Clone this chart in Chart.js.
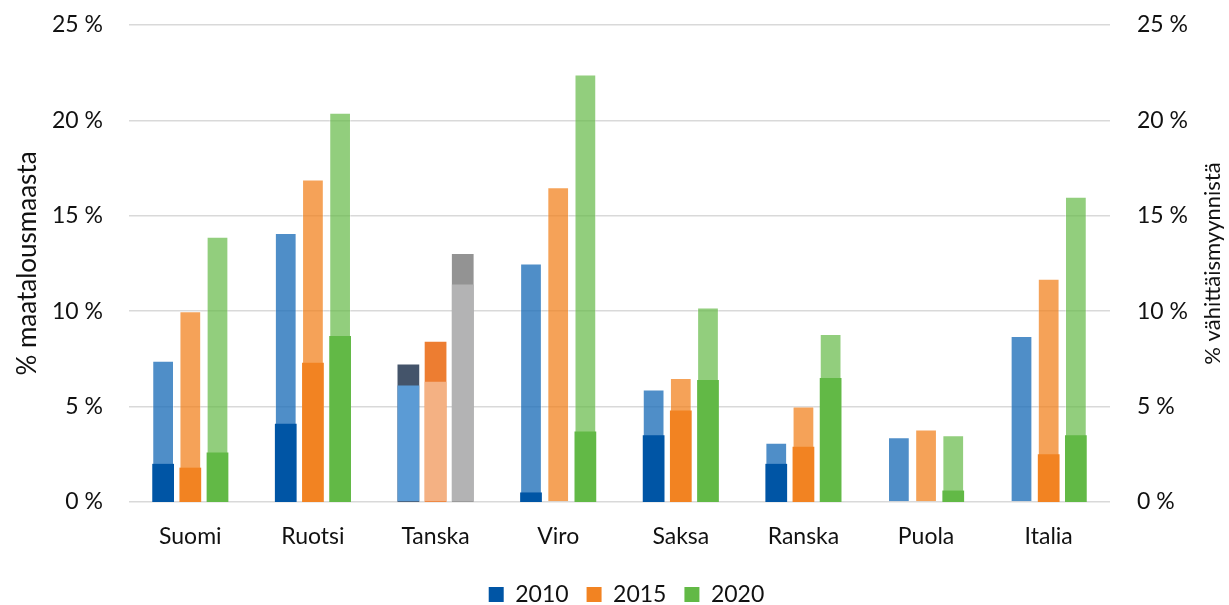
<!DOCTYPE html>
<html>
<head>
<meta charset="utf-8">
<script src="https://cdn.jsdelivr.net/npm/chart.js@4"></script>
<style>
  html, body { margin: 0; padding: 0; background: #fff; overflow: hidden; }
  #wrap { position: relative; width: 1229px; height: 616px; }
</style>
</head>
<body>
<div id="wrap"><canvas id="c"></canvas></div>
<script>
// ---- Data ----
const categories = ['Suomi', 'Ruotsi', 'Tanska', 'Viro', 'Saksa', 'Ranska', 'Puola', 'Italia'];
const years = ['2010', '2015', '2020'];

// % maatalousmaasta (left axis)
const land2010 = [7.4, 14.1, 6.1, 12.5, 5.9, 3.1, 3.4, 8.7];
const land2015 = [10.0, 16.9, 6.3, 16.5, 6.5, 5.0, 3.8, 11.7];
const land2020 = [13.9, 20.4, 11.4, 22.4, 10.2, 8.8, 3.5, 16.0];

// % vähittäismyynnistä (right axis)
const retail2010 = [2.0, 4.1, 7.2, 0.5, 3.5, 2.0, null, null];
const retail2015 = [1.8, 7.3, 8.4, null, 4.8, 2.9, null, 2.5];
const retail2020 = [2.6, 8.7, 13.0, 3.7, 6.4, 6.5, 0.6, 3.5];

const yTicks = [0, 5, 10, 15, 20, 25];
const leftTitle = '% maatalousmaasta';
const rightTitle = '% vähittäismyynnistä';

// ---- Styles ----
const landSeries = [land2010, land2015, land2020];
const retailSeries = [retail2010, retail2015, retail2020];
const retailColors = ['#0055A5', '#F28322', '#62B946'];
const landColors = ['rgba(30,110,185,0.78)', 'rgba(242,130,30,0.74)', 'rgba(100,185,70,0.70)'];
// colours used where retail share exceeds land share
const altRetailColors = ['#44546A', '#ED7D31', '#939393'];
const altLandColors = ['#5B9BD5', '#F4B183', '#B3B3B4'];

const FONT = 'Lato, "Open Sans", sans-serif';
const TXT = '#111111';

const datasets = [];
years.forEach((yr, i) => {
  const land = landSeries[i], retail = retailSeries[i];
  // back layer: land share (semi-transparent)
  datasets.push({
    label: yr + ' maa', data: land, yAxisID: 'y', order: 3, stack: yr,
    backgroundColor: landColors[i], borderColor: 'rgba(255,255,255,0.35)', borderWidth: 1,
    borderSkipped: 'bottom'
  });
  // middle layer: retail share (solid)
  datasets.push({
    label: yr, data: retail, yAxisID: 'y2', order: 2, stack: yr,
    backgroundColor: (ctx) => {
      const k = ctx.dataIndex;
      return (retail[k] != null && retail[k] > land[k]) ? altRetailColors[i] : retailColors[i];
    },
    borderWidth: 0
  });
  // front layer: land share where it is lower than retail share
  datasets.push({
    label: yr + ' maa2',
    data: land.map((v, k) => (retail[k] != null && retail[k] > v) ? v : null),
    yAxisID: 'y', order: 1, stack: yr,
    backgroundColor: altLandColors[i], borderWidth: 0
  });
});

const titlePlugin = {
  id: 'axisTitles',
  afterLayout(chart) {
    // nudge legend slightly right, as in the reference
    if (chart.legend) { chart.legend.left += 12; chart.legend.right += 12; }
  },
  afterDraw(chart) {
    const { ctx, chartArea } = chart;
    const cy = (chartArea.top + chartArea.bottom) / 2;
    ctx.save();
    ctx.fillStyle = TXT;
    ctx.textAlign = 'center';
    ctx.textBaseline = 'middle';
    [[28, leftTitle, 26], [1213, rightTitle, 22]].forEach(([x, t, size]) => {
      ctx.save();
      ctx.font = size + 'px ' + FONT;
      ctx.translate(x, cy);
      ctx.rotate(-Math.PI / 2);
      ctx.fillText(t, 0, 0);
      ctx.restore();
    });
    ctx.restore();
  }
};

const yScale = (pos, width, pad, grid) => ({
  type: 'linear', position: pos, min: 0, max: 25, stacked: false,
  afterBuildTicks: (s) => { s.ticks = yTicks.map(v => ({ value: v })); },
  afterFit: (s) => { s.width = width; s.paddingTop = 0; s.paddingBottom = 0; },
  ticks: { padding: pad, color: TXT, font: { family: FONT, size: 23 }, callback: (v) => v + ' %' },
  grid: grid ? { color: '#D9D9D9', lineWidth: 1.5, drawTicks: false } : { display: false, drawTicks: false },
  border: { display: false }
});

new Chart(document.getElementById('c'), {
  type: 'bar',
  data: { labels: categories, datasets },
  options: {
    responsive: true, maintainAspectRatio: false, animation: false,
    layout: { padding: { top: 25, left: 0, right: 0, bottom: 0 } },
    datasets: { bar: { categoryPercentage: 0.665, barPercentage: 0.8 } },
    scales: {
      x: {
        type: 'category', position: 'bottom', stacked: true,
        afterFit: (s) => { s.height = 63; },
        ticks: { padding: 13, color: TXT, font: { family: FONT, size: 23 } },
        grid: { display: false }, border: { display: false }
      },
      y: yScale('left', 129, 26, true),
      y2: yScale('right', 119, 27, false)
    },
    plugins: {
      legend: {
        position: 'bottom',
        labels: {
          color: TXT, font: { family: FONT, size: 23 }, boxWidth: 15, boxHeight: 15, padding: 18,
          generateLabels: () => years.map((yr, i) => ({
            text: yr, fillStyle: retailColors[i], strokeStyle: retailColors[i], lineWidth: 0,
            fontColor: TXT, hidden: false, datasetIndex: i * 3 + 1
          }))
        }
      },
      tooltip: { enabled: false }
    }
  },
  plugins: [titlePlugin]
});
</script>
</body>
</html>
